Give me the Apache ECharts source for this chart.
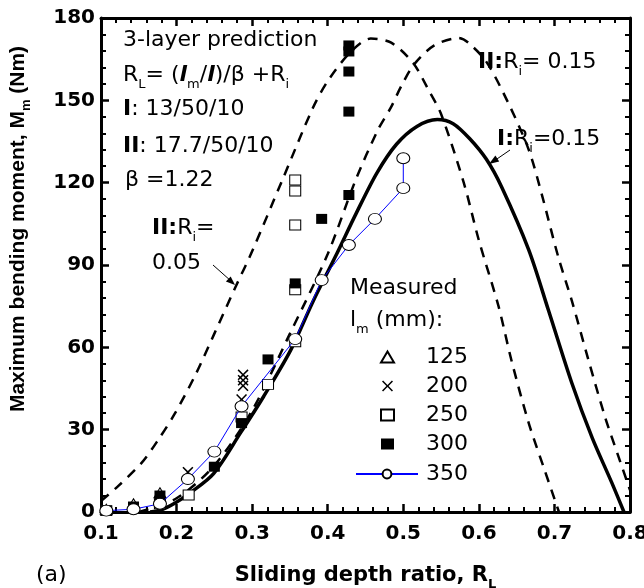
<!DOCTYPE html>
<html><head><meta charset="utf-8">
<script src="https://cdn.jsdelivr.net/npm/echarts@6/dist/echarts.min.js"></script>
<style>html,body{margin:0;padding:0;background:#fff}#c{width:644px;height:588px}</style>
</head><body><div id="c"></div>
<script>
// ---- axis ranges / ticks ----
const xRange = [0.1, 0.8];
const yRange = [0, 180];
const xStep = 0.1;
const yStep = 30;

// ---- prediction curves ----
// II: Ri = 0.05 (dashed, left)
const curveII005_x = [0.10,0.123,0.154,0.175,0.198,0.225,0.25,0.278,0.30,0.34,0.38,0.40,0.43,0.457,0.484,0.513,0.533,0.55,0.58,0.60,0.626,0.643,0.666,0.687,0.706];
const curveII005_y = [4,9.5,18,26,36,50,65,82,95,121,147,157,167.5,172.5,171,163.6,154,145,120,99,75,55.4,32.4,15.3,0];
// II: Ri = 0.15 (dashed, right)
const curveII015_x = [0.15,0.20,0.25,0.30,0.35,0.40,0.437,0.466,0.484,0.497,0.514,0.541,0.573,0.586,0.61,0.639,0.666,0.683,0.705,0.723,0.745,0.767,0.785,0.80];
const curveII015_y = [0,5,17,37,65,94,121,139,147.6,155,163,170,172.7,171,164,149,132,116,93,77,55.4,34.6,20,8];
// I: Ri = 0.15 (solid)
const curveI015_x = [0.165,0.18,0.198,0.218,0.249,0.285,0.315,0.351,0.381,0.41,0.438,0.465,0.491,0.518,0.545,0.566,0.588,0.61,0.63,0.666,0.692,0.723,0.75,0.776,0.792];
const curveI015_y = [0,0.8,3.3,7,14,29,42,59,77,93,109,123.5,134,140.5,143,141.5,136,128.5,118.5,95.5,73.6,47,27,10.6,0];

// ---- measured data ----
const m125_x = [0.107,0.143,0.178];
const m125_y = [1,3,7];
const m200_x = [0.215,0.286,0.288,0.288,0.288];
const m200_y = [14.5,41,46,48,50];
const m250_x = [0.107,0.178,0.216,0.286,0.321,0.357,0.357,0.357,0.357,0.357];
const m250_y = [0.5,3,6.2,34.6,46.5,62,81,104.6,117,121];
const m300_x = [0.107,0.143,0.178,0.25,0.286,0.321,0.357,0.392,0.428,0.428,0.428,0.428,0.428];
const m300_y = [0.5,2,6,16.5,32.4,55.6,83.3,106.8,115.5,145.9,160.5,167.8,170];
const m350_x = [0.107,0.143,0.178,0.215,0.25,0.286,0.357,0.392,0.428,0.4625,0.5,0.5];
const m350_y = [0.5,1,3,12,22,38.5,63,84.5,97.3,106.8,118,128.9];

const legendMarkers = ['125','200','250','300'];
const legendLine = ['350'];

const zip = (a, b) => a.map((v, i) => [v, b[i]]);

const FONT = 'DejaVu Sans';
const CROSS = 'path://M0,1L1,0L5,4L9,0L10,1L6,5L10,9L9,10L5,6L1,10L0,9L4,5Z';
const openStyle = () => ({color: '#fff', borderColor: '#000', borderWidth: 1, opacity: 1});

function axisBase() {
  return {
    axisLine: {show: true, onZero: false, lineStyle: {color: '#000', width: 3}},
    axisTick: {show: true, inside: true, length: 8, lineStyle: {color: '#000', width: 2.5}},
    minorTick: {show: true, splitNumber: 5, length: 5, lineStyle: {color: '#000', width: 2}},
    splitLine: {show: false}
  };
}

const xNameText = '{b|Sliding depth ratio, R}{s|L}';
const yNameText = '{b|Maximum bending moment, M}{s|m}{b| (Nm)}';
const xNameRich = {
  b: {fontFamily: FONT, fontWeight: 'bold', fontSize: 21, color: '#000', lineHeight: 30},
  s: {fontFamily: FONT, fontWeight: 'bold', fontSize: 13, color: '#000', lineHeight: 30, verticalAlign: 'bottom'}
};
const yNameRich = {
  b: {fontFamily: 'Liberation Sans', fontWeight: 'bold', fontSize: 21, color: '#000', lineHeight: 30},
  s: {fontFamily: 'Liberation Sans', fontWeight: 'bold', fontSize: 13, color: '#000', lineHeight: 30, verticalAlign: 'bottom'}
};

function makeOption(f) {
  const lblSize = f.smallFonts ? 15 : 20;
  const xMain = Object.assign(axisBase(), {
    type: 'value', position: 'bottom', min: xRange[0], max: xRange[1], interval: xStep,
    axisLabel: {margin: 12, color: '#000', fontFamily: FONT, fontWeight: 'bold', fontSize: lblSize,
      formatter: v => v.toFixed(1)}
  });
  const yMain = Object.assign(axisBase(), {
    type: 'value', position: 'left', min: yRange[0], max: yRange[1], interval: yStep,
    axisLabel: {margin: 6, color: '#000', fontFamily: FONT, fontWeight: 'bold', fontSize: lblSize}
  });
  if (!f.graphicNames) {
    Object.assign(xMain, {name: xNameText, nameLocation: 'middle', nameGap: 49, nameTextStyle: {rich: xNameRich}});
    Object.assign(yMain, {name: yNameText, nameLocation: 'middle', nameGap: 68, nameRotate: 90,
      nameTextStyle: {padding: [0, 0, 0, 72], rich: yNameRich}});
  }
  const xTop = Object.assign(axisBase(), {
    type: 'value', position: 'top', min: xRange[0], max: xRange[1], interval: xStep, axisLabel: {show: false}
  });
  const yRight = Object.assign(axisBase(), {
    type: 'value', position: 'right', min: yRange[0], max: yRange[1], interval: yStep, axisLabel: {show: false}
  });

  const legend = f.simpleLegend ? {
    data: legendMarkers.concat(legendLine), orient: 'vertical', left: 362, top: 341, itemGap: 7, selectedMode: false,
    textStyle: {fontFamily: FONT, fontSize: 22, color: '#000'}
  } : [
    {
      data: legendMarkers, orient: 'vertical', left: 375, top: 341,
      itemWidth: 13, itemHeight: 11, itemGap: 7, selectedMode: false,
      textStyle: {fontFamily: FONT, fontSize: 22, color: '#000', lineHeight: 22, padding: [0, 0, 0, 27]}
    },
    {
      data: legendLine, orient: 'vertical', left: 350, top: 458,
      itemWidth: 62, itemHeight: 11, selectedMode: false,
      textStyle: {fontFamily: FONT, fontSize: 22, color: '#000', lineHeight: 22, padding: [0, 0, 0, 3]}
    }
  ];

  const tri = f.simpleSymbols ? 11 : [12, 10];
  const sq = f.simpleSymbols ? 10 : [11, 10];
  const circ = f.simpleSymbols ? 12 : [13, 11];
  const series = [
    {name: '125', type: 'scatter', data: zip(m125_x, m125_y), symbol: 'triangle', symbolSize: tri, itemStyle: openStyle(), z: 3},
    {name: '200', type: 'scatter', data: zip(m200_x, m200_y), symbol: CROSS, symbolSize: 11, itemStyle: {color: '#000', opacity: 1}, z: 3},
    {name: '250', type: 'scatter', data: zip(m250_x, m250_y), symbol: 'rect', symbolSize: sq, itemStyle: openStyle(), z: 3},
    {name: '300', type: 'scatter', data: zip(m300_x, m300_y), symbol: 'rect', symbolSize: sq, itemStyle: {color: '#000', opacity: 1}, z: 3},
    {name: '350', type: 'line', data: zip(m350_x, m350_y), symbol: 'circle', symbolSize: circ, showAllSymbol: !f.simpleSymbols,
      itemStyle: openStyle(), lineStyle: {color: '#0000ff', width: 1}, z: 4},
    {name: 'II: Ri=0.05', type: 'line', data: zip(curveII005_x, curveII005_y), symbol: 'none', smooth: 0.3,
      lineStyle: {color: '#000', width: 2.5, type: [10, 8]}, z: 2},
    {name: 'II: Ri=0.15', type: 'line', data: zip(curveII015_x, curveII015_y), symbol: 'none', smooth: 0.3,
      lineStyle: {color: '#000', width: 2.5, type: [10, 8]}, z: 2},
    {name: 'I: Ri=0.15', type: 'line', data: zip(curveI015_x, curveI015_y), symbol: 'none', smooth: 0.3,
      lineStyle: {color: '#000', width: 3.5}, z: 2}
  ];

  const n = {fontFamily: FONT, fontSize: 22, color: '#000', lineHeight: 33};
  const b = {fontFamily: FONT, fontWeight: 'bold', fontSize: 22, color: '#000', lineHeight: 33};
  const it = {fontFamily: FONT, fontWeight: 'bold', fontStyle: 'italic', fontSize: 22, color: '#000', lineHeight: 33};
  const s = {fontFamily: FONT, fontSize: 13, color: '#000', lineHeight: 33, verticalAlign: 'bottom'};
  const rich = {n: n, b: b, i: it, s: s};
  const txt = (x, y, text) => ({type: 'text', x: x, y: y, z: 10,
    style: {text: text, rich: rich, verticalAlign: 'middle', align: 'left'}});
  const graphic = [
    txt(123, 40, '{n|3-layer prediction}'),
    txt(123, 75, '{n|R}{s|L}{n|= (}{i|l}{s|m}{n|/}{i|l}{n|)/β +R}{s|i}'),
    txt(123, 109, '{b|I}{n|: 13/50/10}'),
    txt(123, 146, '{b|II}{n|: 17.7/50/10}'),
    txt(125, 180, '{n|β =1.22}'),
    txt(152, 228, '{b|II:}{n|R}{s|i}{n|=}'),
    txt(152, 263, '{n|0.05}'),
    txt(478, 62, '{b|II:}{n|R}{s|i}{n|= 0.15}'),
    txt(497, 139, '{b|I:}{n|R}{s|i}{n|=0.15}'),
    txt(350, 288, '{n|Measured}'),
    txt(350, 320, '{n|l}{s|m}{n| (mm):}'),
    txt(36, 575, '{n|(a)}')
  ];
  if (!f.noArrows) {
    graphic.push(
      {type: 'line', shape: {x1: 213, y1: 265, x2: 231, y2: 281}, style: {stroke: '#000', lineWidth: 1}, z: 10},
      {type: 'polygon', shape: {points: [[235, 285], [225.9, 281.6], [230.7, 276.4]]}, style: {fill: '#000'}, z: 10},
      {type: 'line', shape: {x1: 510, y1: 150, x2: 494, y2: 161}, style: {stroke: '#000', lineWidth: 1}, z: 10},
      {type: 'polygon', shape: {points: [[489, 164], [499.2, 161.4], [495.4, 155.6]]}, style: {fill: '#000'}, z: 10}
    );
  }
  if (f.graphicNames) {
    graphic.push(
      {type: 'text', x: 360, y: 577, z: 10, style: {text: xNameText, rich: xNameRich, align: 'center', verticalAlign: 'middle'}},
      {type: 'text', x: 20, y: 229, rotation: Math.PI / 2, z: 10, style: {text: yNameText, rich: yNameRich, align: 'center', verticalAlign: 'middle'}}
    );
  }

  const opt = {
    animation: false,
    backgroundColor: '#fff',
    grid: {left: 101, right: 14, top: 18, bottom: 76, outerBoundsMode: 'none'},
    xAxis: [xMain, xTop],
    yAxis: [yMain, yRight],
    legend: legend,
    series: series,
    graphic: graphic
  };
  if (f.title) opt.title = {text: ' ', left: 0, top: 0};
  return opt;
}

const dom = document.getElementById('c');
const chart = echarts.init(dom);

// checks that the inward axis ticks really got painted (tick at y=150 on the left axis, x=0.4 on the bottom axis)
function ticksPainted() {
  let ok = false;
  try {
    dom.querySelectorAll('canvas').forEach(function (cv) {
      const ctx = cv.getContext('2d');
      const dark = (x, y) => { const d = ctx.getImageData(x, y, 1, 1).data; return d[3] > 100 && d[0] < 110; };
      if (dark(105, 100) || dark(106, 101) || dark(328, 507) || dark(327, 508)) ok = true;
    });
  } catch (e) { ok = true; }
  return ok;
}

const steps = [
  {f: {}, merge: false},
  {f: {}, merge: true},
  {f: {title: true}, merge: false},
  {f: {title: true, noArrows: true}, merge: false},
  {f: {title: true, noArrows: true, simpleSymbols: true}, merge: false},
  {f: {title: true, noArrows: true, simpleSymbols: true, graphicNames: true}, merge: false},
  {f: {title: true, noArrows: true, simpleSymbols: true, graphicNames: true, simpleLegend: true}, merge: false},
  {f: {title: true, noArrows: true, simpleSymbols: true, graphicNames: true, simpleLegend: true, smallFonts: true}, merge: false}
];
let chosen = -1;
for (let i = 0; i < steps.length; i++) {
  try {
    chart.setOption(makeOption(steps[i].f), !steps[i].merge);
  } catch (e) {}
  if (ticksPainted()) { chosen = i; break; }
}
if (chosen < 0) chart.setOption(makeOption({}), true);
</script>
</body></html>
